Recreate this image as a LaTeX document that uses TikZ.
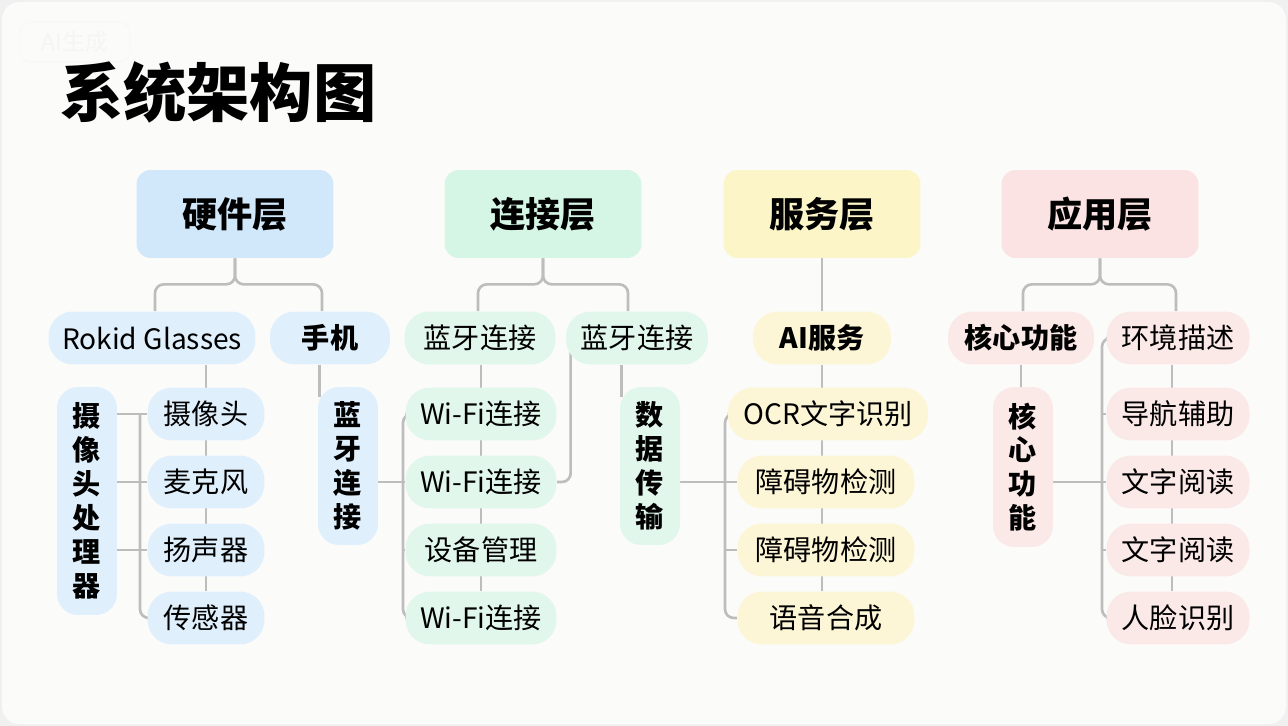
\documentclass[tikz,border=0pt]{standalone}
\usepackage{fontspec}
\setmainfont{Noto Sans CJK SC}
\usetikzlibrary{positioning, calc, backgrounds}
\definecolor{hwhead}{HTML}{D0E8FA}
\definecolor{hwpill}{HTML}{DFF0FC}
\definecolor{cnhead}{HTML}{D5F6E5}
\definecolor{cnpill}{HTML}{E1F7EC}
\definecolor{svhead}{HTML}{FCF5C8}
\definecolor{svpill}{HTML}{FCF6D6}
\definecolor{aphead}{HTML}{FCE3E3}
\definecolor{appill}{HTML}{FBE9E8}
\definecolor{linkgray}{HTML}{BDBDBD}
\definecolor{pagebg}{HTML}{FBFBF9}
\tikzset{
    layer/.style={rectangle, rounded corners=8pt, minimum width=3.94cm, minimum height=1.76cm, font=\fontsize{20}{24}\selectfont\bfseries},
    pill/.style={rectangle, rounded corners=14pt, minimum height=1.06cm, inner xsep=4pt, font=\fontsize{16}{19}\selectfont},
    tallpill/.style={rectangle, rounded corners=12pt, minimum width=1.2cm, align=center, font=\fontsize{16}{19.3}\selectfont\bfseries},
    link/.style={draw=linkgray, line width=1.5pt, rounded corners=5pt},
}

\begin{document}
\begin{tikzpicture}[x=0.02cm, y=-0.02cm]

    % Page
    \begin{scope}[on background layer]
        \fill[gray!12] (0,0) rectangle (1288,726);
        \fill[pagebg, rounded corners=10pt] (2,2) rectangle (1286,724);
    \end{scope}
    \useasboundingbox (0,0) rectangle (1288,726);

    % Title
    \node[draw=gray!6, rounded corners=6pt, text=gray!8, font=\fontsize{13}{15}\selectfont, minimum width=2.2cm, minimum height=0.8cm] (mark) at (75, 42) {AI生成};
    \node[anchor=west, font=\fontsize{36}{42}\selectfont\bfseries] (title) at (54, 92) {系统架构图};

    % Layers
    \node[layer, fill=hwhead] (hw) at (235, 214) {硬件层};
    \node[layer, fill=cnhead] (cn) at (543, 214) {连接层};
    \node[layer, fill=svhead] (sv) at (822, 214) {服务层};
    \node[layer, fill=aphead] (ap) at (1100, 214) {应用层};

    % Hardware layer
    \node[pill, fill=hwpill, minimum width=4.14cm] (rokid) at (152, 338) {Rokid Glasses};
    \node[pill, fill=hwpill, minimum width=2.4cm, font=\fontsize{16}{19}\selectfont\bfseries] (phone) at (330, 338) {手机};
    \node[tallpill, fill=hwpill, minimum height=4.56cm] (proc) at (87, 501) {摄\\像\\头\\处\\理\\器};
    \node[pill, fill=hwpill, minimum width=2.34cm] (cam) at (206, 414) {摄像头};
    \node[pill, fill=hwpill, minimum width=2.34cm] (mic) at (206, 482) {麦克风};
    \node[pill, fill=hwpill, minimum width=2.34cm] (spk) at (206, 550) {扬声器};
    \node[pill, fill=hwpill, minimum width=2.34cm] (sensor) at (206, 618) {传感器};
    \node[tallpill, fill=hwpill, minimum height=3.16cm] (btv) at (348, 466) {蓝\\牙\\连\\接};

    % Connection layer
    \node[pill, fill=cnpill, minimum width=3.02cm] (bt1) at (480, 338) {蓝牙连接};
    \node[pill, fill=cnpill, minimum width=2.84cm] (bt2) at (637, 338) {蓝牙连接};
    \node[pill, fill=cnpill, minimum width=3.02cm] (wifi1) at (481, 414) {Wi-Fi连接};
    \node[pill, fill=cnpill, minimum width=3.02cm] (wifi2) at (481, 482) {Wi-Fi连接};
    \node[pill, fill=cnpill, minimum width=3.02cm] (mgmt) at (481, 550) {设备管理};
    \node[pill, fill=cnpill, minimum width=3.02cm] (wifi3) at (481, 618) {Wi-Fi连接};
    \node[tallpill, fill=cnpill, minimum height=3.16cm] (data) at (650, 466) {数\\据\\传\\输};

    % Service layer
    \node[pill, fill=svpill, minimum width=2.76cm, font=\fontsize{16}{19}\selectfont\bfseries] (ai) at (822, 338) {AI服务};
    \node[pill, fill=svpill, minimum width=4.0cm] (ocr) at (828, 414) {OCR文字识别};
    \node[pill, fill=svpill, minimum width=3.54cm] (obst1) at (826, 482) {障碍物检测};
    \node[pill, fill=svpill, minimum width=3.54cm] (obst2) at (826, 550) {障碍物检测};
    \node[pill, fill=svpill, minimum width=3.54cm] (speech) at (826, 618) {语音合成};

    % Application layer
    \node[pill, fill=appill, minimum width=2.92cm, font=\fontsize{16}{19}\selectfont\bfseries] (core) at (1021, 338) {核心功能};
    \node[pill, fill=appill, minimum width=2.86cm] (env) at (1178, 338) {环境描述};
    \node[tallpill, fill=appill, minimum height=3.2cm] (corev) at (1023, 467) {核\\心\\功\\能};
    \node[pill, fill=appill, minimum width=2.86cm] (nav) at (1178, 414) {导航辅助};
    \node[pill, fill=appill, minimum width=2.86cm] (read1) at (1178, 482) {文字阅读};
    \node[pill, fill=appill, minimum width=2.86cm] (read2) at (1178, 550) {文字阅读};
    \node[pill, fill=appill, minimum width=2.86cm] (face) at (1178, 618) {人脸识别};

    % Bus lines
    \coordinate (hwbus) at (140, 0);
    \coordinate (cnbus) at (403, 0);
    \coordinate (svbus) at (725, 0);
    \coordinate (apbus) at (1102, 0);

    % Connectors
    \begin{scope}[on background layer]
        \draw[link] (hw.south) -- ++(0,26) -| (rokid.north -| 155,0);
        \draw[link] (hw.south) -- ++(0,26) -| (phone.north -| 322,0);
        \draw[link] (cam.north |- rokid.south) -- (sensor.north);
        \draw[link] (proc.east |- cam.west) -- (cam.west);
        \draw[link] (proc.east |- mic.west) -- (mic.west);
        \draw[link] (proc.east |- spk.west) -- (spk.west);
        \draw[link] (cam.west -| hwbus) |- (sensor.west);
        \draw[link] ([xshift=0.04cm]btv.north west |- phone.south) -- ([xshift=0.04cm, yshift=-0.2cm]btv.north west);
        \draw[link] (btv.east |- wifi2.west) -- (wifi2.west);

        \draw[link] (cn.south) -- ++(0,26) -| (bt1.north -| 478,0);
        \draw[link] (cn.south) -- ++(0,26) -| (bt2.north -| 628,0);
        \draw[link] (wifi1.north |- bt1.south) -- (wifi3.north);
        \draw[link] (wifi1.west) -| (wifi3.west -| cnbus) -- (wifi3.west);
        \draw[link] (mgmt.west -| cnbus) -- (mgmt.west);
        \draw[link] ([xshift=0.1cm]bt2.west) |- (wifi2.east);
        \draw[link] ([xshift=0.04cm]data.north west |- bt2.south) -- ([xshift=0.04cm, yshift=-0.2cm]data.north west);
        \draw[link] (data.east |- obst1.west) -- (obst1.west);

        \draw[link] (sv.south) -- (ai.north);
        \draw[link] (ai.south) -- (ai.south |- speech.north);
        \draw[link] (ocr.west) -| (speech.west -| svbus) -- (speech.west);
        \draw[link] (obst2.west -| svbus) -- (obst2.west);

        \draw[link] (ap.south) -- ++(0,26) -| (core.north -| 1023,0);
        \draw[link] (ap.south) -- ++(0,26) -| (env.north -| 1176,0);
        \draw[link] (core.south) -- (core.south |- corev.north);
        \draw[link] (corev.east |- read1.west) -- (read1.west);
        \draw[link] (env.west) -| (face.west -| apbus) -- (face.west);
        \draw[link] (nav.west -| apbus) -- (nav.west);
        \draw[link] (read2.west -| apbus) -- (read2.west);
        \draw[link] (env.south -| 1172,0) -- (face.north -| 1172,0);
    \end{scope}

\end{tikzpicture}
\end{document}
